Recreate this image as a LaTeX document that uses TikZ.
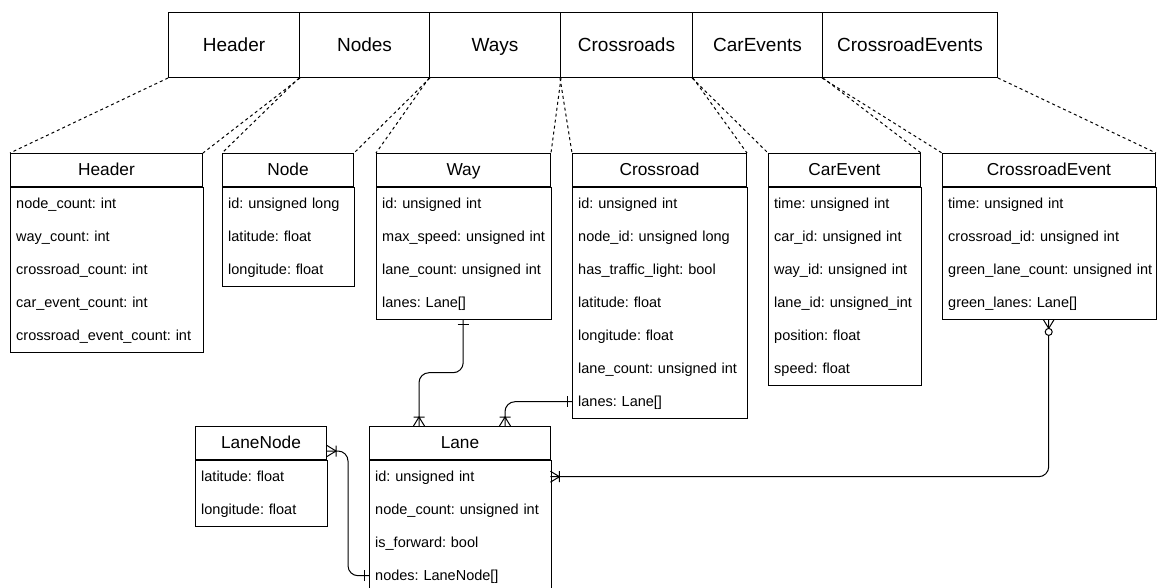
\documentclass[tikz,border=0pt]{standalone}
\usepackage{fontspec}
\setmainfont{Liberation Sans}
\usetikzlibrary{calc,decorations.markings}

\newcommand\barfont{\fontsize{19}{22}\selectfont\frenchspacing}
\newcommand\titlefont{\fontsize{17.3}{20}\selectfont\frenchspacing}
\newcommand\rowfont{\fontsize{14.5}{17}\selectfont\frenchspacing}

\tikzset{
  frame/.style={draw=black, line width=1pt},
  barbox/.style={frame, minimum width=#1, minimum height=65pt, inner sep=0pt,
    anchor=north west, font=\barfont, text height=13.6pt, text depth=0pt},
  ertitle/.style={frame, anchor=north west, minimum height=33pt, inner sep=0pt,
    font=\titlefont, text height=12.4pt, text depth=0.5pt},
  errow/.style={anchor=north west, minimum height=33pt, inner xsep=6pt,
    inner ysep=0pt, align=left, font=\rowfont, text height=10.6pt, text depth=1.8pt},
  mapline/.style={line width=1pt, dash pattern=on 3pt off 3pt},
  conn/.style={draw=black, line width=1pt, rounded corners=10pt},
  mkline/.style={draw=black, line width=1pt, sharp corners, solid},
  one start/.style={postaction={decorate,decoration={markings,
    mark=at position 5pt with {\draw[mkline] (0,-5.5pt)--(0,5.5pt);}}}},
  one end/.style={postaction={decorate,decoration={markings,
    mark=at position -5pt with {\draw[mkline] (0,-5.5pt)--(0,5.5pt);}}}},
  many start/.style={postaction={decorate,decoration={markings,
    mark=at position 9pt with {\draw[mkline] (0,-5.5pt)--(0,5.5pt)
      (-9pt,-5.5pt)--(0,0)--(-9pt,5.5pt);}}}},
  many end/.style={postaction={decorate,decoration={markings,
    mark=at position -9pt with {\draw[mkline] (0,-5.5pt)--(0,5.5pt)
      (9pt,-5.5pt)--(0,0)--(9pt,5.5pt);}}}},
  zero many start/.style={postaction={decorate,decoration={markings,
    mark=at position 9pt with {\draw[mkline] (-9pt,-5.5pt)--(0,0)--(-9pt,5.5pt);},
    mark=at position 12.5pt with {\draw[mkline, fill=white] (0,0) circle (3.5pt);}}}},
}

% \ertable{name}{left}{top}{width}{title}{rows}
\newcommand\ertable[6]{%
  \pgfmathsetmacro\ertw{#4-12}%
  \node[ertitle, minimum width=#4pt] (#1) at (#2,#3) {#5};
  \foreach \r [count=\i] in {#6} {%
    \node[errow, text width=\ertw pt] (#1-\i) at ($(#1.south west)+(0,{33*(\i-1)})$) {\mbox{\r}};
    \xdef\ernrows{\i}%
  }%
  \draw[frame] (#1.south west) rectangle ($(#1.south east)+(0,{33*\ernrows})$);
}

\begin{document}
\begin{tikzpicture}[x=1pt, y=-1pt]
\useasboundingbox (0,0) rectangle (1157,587);

% file layout bar
\node[barbox=131pt] (b-header) at (168,12) {Header};
\node[barbox=130pt] (b-nodes) at (299,12) {Nodes};
\node[barbox=131pt] (b-ways) at (429,12) {Ways};
\node[barbox=132pt] (b-crossroads) at (560,12) {Crossroads};
\node[barbox=130pt] (b-carevents) at (692,12) {CarEvents};
\node[barbox=175pt] (b-crevents) at (822,12) {CrossroadEvents};

% record structures
\ertable{header}{10}{153}{192}{Header}{node\_count: int, way\_count: int,
  crossroad\_count: int, car\_event\_count: int, crossroad\_event\_count: int}
\ertable{node}{222}{153}{131}{Node}{id: unsigned long, latitude: float, longitude: float}
\ertable{way}{376}{153}{174}{Way}{id: unsigned int, max\_speed: unsigned int,
  lane\_count: unsigned int, lanes: Lane[]}
\ertable{crossroad}{572}{153}{174}{Crossroad}{id: unsigned int, node\_id: unsigned long,
  has\_traffic\_light: bool, latitude: float, longitude: float,
  lane\_count: unsigned int, lanes: Lane[]}
\ertable{carevent}{768}{153}{152}{CarEvent}{time: unsigned int, car\_id: unsigned int,
  way\_id: unsigned int, lane\_id: unsigned\_int, position: float, speed: float}
\ertable{crevent}{942}{153}{213}{CrossroadEvent}{time: unsigned int,
  crossroad\_id: unsigned int, green\_lane\_count: unsigned int, green\_lanes: Lane[]}
\ertable{lanenode}{195}{426}{131}{LaneNode}{latitude: float, longitude: float}
\ertable{lane}{369}{426}{181}{Lane}{id: unsigned int, node\_count: unsigned int,
  is\_forward: bool, nodes: LaneNode[]}

% sections of the bar mapped to their records
\foreach \b/\t in {b-header/header, b-nodes/node, b-ways/way,
                   b-crossroads/crossroad, b-carevents/carevent, b-crevents/crevent} {
  \draw[mapline] (\b.south west) -- (\t.north west);
  \draw[mapline] (\b.south east) -- (\t.north east);
}

% relationship attachment points
\coordinate (lane-in1) at ($(lane.north west)+(50,0)$);
\coordinate (lane-in2) at ($(lane.north west)+(136,0)$);
\coordinate (lanenode-out) at ($(lanenode.east)+(0,8)$);

% relationships
\draw[conn, one start, many end] (way-4.south)
  |- ($(way-4.south)!0.5!(lane-in1)$) -| (lane-in1);
\draw[conn, one start, many end] (crossroad-7.west) -| (lane-in2);
\draw[conn, zero many start, many end] (crevent-4.south) |- (lane-1.east);
\draw[conn, many start, one end] (lanenode-out)
  -| ($(lanenode-out)!0.5!(lane-4.west)$) |- (lane-4.west);
\end{tikzpicture}
\end{document}
